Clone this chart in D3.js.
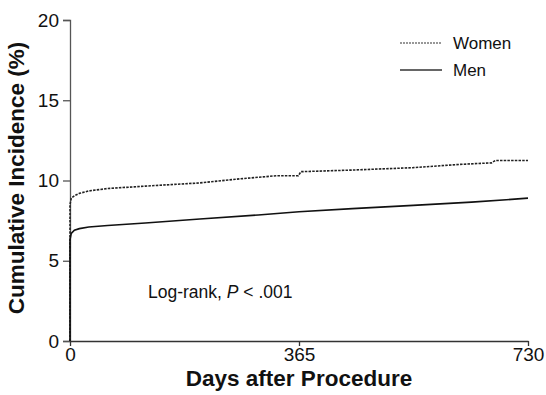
<!DOCTYPE html>
<html>
<head>
<meta charset="utf-8">
<script src="https://cdn.jsdelivr.net/npm/d3@7"></script>
<style>
  body { margin: 0; background: #fff; }
  text { font-family: "Liberation Sans", Arial, sans-serif; fill: #111; }
</style>
</head>
<body>
<script>
// (days, cumulative incidence %)
const womenDays = [0, 0, 2, 7, 15, 30, 60, 120, 207, 270, 330, 364, 368, 450, 547, 620, 672, 678, 730];
const womenVals = [0, 8.5, 8.9, 9.05, 9.2, 9.35, 9.5, 9.65, 9.85, 10.1, 10.3, 10.3, 10.55, 10.65, 10.8, 11.0, 11.1, 11.25, 11.25];
const menDays = [0, 0, 2, 7, 15, 30, 60, 120, 207, 300, 365, 450, 547, 640, 730];
const menVals = [0, 6.3, 6.7, 6.9, 7.0, 7.1, 7.2, 7.35, 7.6, 7.85, 8.05, 8.25, 8.45, 8.65, 8.9];
const xTicks = [0, 365, 730];
const yTicks = [0, 5, 10, 15, 20];

const W = 546, H = 395;
const svg = d3.select('body').append('svg')
	.attr('width', W)
	.attr('height', H);

const x = d3.scaleLinear().domain([0, 730]).range([70, 528]);
const y = d3.scaleLinear().domain([0, 20]).range([341, 20]);

// y axis
const yAxis = svg.append('g')
	.attr('transform', `translate(${x(0)},0)`)
	.call(d3.axisLeft(y).tickValues(yTicks).tickSize(7).tickPadding(4).tickFormat(d3.format('d')));
yAxis.select('.domain').attr('stroke', '#555').attr('stroke-width', 1.3);
yAxis.selectAll('.tick line').attr('stroke', '#555').attr('stroke-width', 1.3);
yAxis.selectAll('text').style('font-size', '19px');

// x axis
const xAxis = svg.append('g')
	.attr('transform', `translate(0,${y(0)})`)
	.call(d3.axisBottom(x).tickValues(xTicks).tickSize(5).tickSizeOuter(0).tickPadding(2));
xAxis.select('.domain').attr('stroke', '#333').attr('stroke-width', 1.3);
xAxis.selectAll('.tick line').attr('stroke', '#333').attr('stroke-width', 1.3);
xAxis.selectAll('text').style('font-size', '19px');

// titles
svg.append('text')
	.attr('transform', `translate(24,178) rotate(-90)`)
	.attr('text-anchor', 'middle')
	.style('font-size', '22.5px')
	.style('font-weight', 'bold')
	.text('Cumulative Incidence (%)');

svg.append('text')
	.attr('x', x(365))
	.attr('y', 386)
	.attr('text-anchor', 'middle')
	.style('font-size', '22.5px')
	.style('font-weight', 'bold')
	.text('Days after Procedure');

// curves
const line = d3.line()
	.x(d => x(d[0]))
	.y(d => y(d[1]));

svg.append('path')
	.datum(d3.zip(womenDays, womenVals))
	.attr('fill', 'none')
	.attr('stroke', '#222')
	.attr('stroke-width', 1.6)
	.attr('stroke-dasharray', '2.5,1.2')
	.attr('d', line);

svg.append('path')
	.datum(d3.zip(menDays, menVals))
	.attr('fill', 'none')
	.attr('stroke', '#111')
	.attr('stroke-width', 1.6)
	.attr('d', line);

// legend
const legend = svg.append('g');
legend.append('line')
	.attr('x1', 400).attr('x2', 442).attr('y1', 43).attr('y2', 43)
	.attr('stroke', '#333').attr('stroke-width', 1.2).attr('stroke-dasharray', '2,1');
legend.append('text').attr('x', 453).attr('y', 49).style('font-size', '17px').text('Women');
legend.append('line')
	.attr('x1', 400).attr('x2', 442).attr('y1', 70).attr('y2', 70)
	.attr('stroke', '#333').attr('stroke-width', 1.3);
legend.append('text').attr('x', 453).attr('y', 76).style('font-size', '17px').text('Men');

// log-rank note
const note = svg.append('text').attr('x', 148).attr('y', 298).style('font-size', '17.5px');
note.append('tspan').text('Log-rank, ');
note.append('tspan').style('font-style', 'italic').text('P');
note.append('tspan').text(' < .001');
</script>
</body>
</html>
